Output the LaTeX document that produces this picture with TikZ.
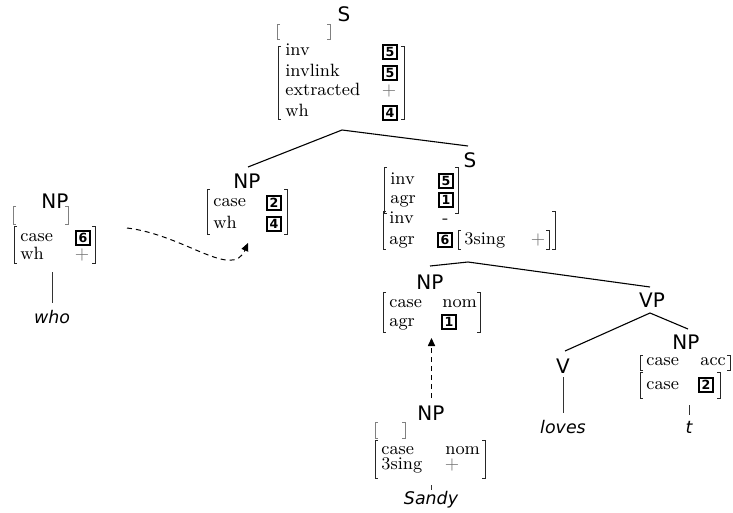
\documentclass[tikz,border=0pt]{standalone}
\usepackage{fontspec}
\setsansfont{DejaVu Sans}
\usetikzlibrary{arrows.meta}

% left x, top y, right x, bottom y of a pair of square brackets
\newcommand\avmbrk[5][]{%
  \draw[brk,#1] (#2,#3) ++(3,0) -- ++(-3,0) -- (#2,#5) -- ++(3,0);
  \draw[brk,#1] (#4,#3) ++(-3,0) -- ++(3,0) -- (#4,#5) -- ++(-3,0);
}

\tikzset{
  lab/.style={anchor=base, inner sep=0pt, font=\sffamily\fontsize{10}{12}\selectfont},
  word/.style={anchor=base, inner sep=0pt, font=\sffamily\itshape\fontsize{8.7}{10}\selectfont},
  feat/.style={anchor=base west, inner sep=0pt, font=\rmfamily\fontsize{8.9}{10}\selectfont},
  plus/.style={anchor=base, inner sep=0pt, text=black!55, font=\rmfamily\fontsize{8.9}{10}\selectfont},
  tagbox/.style={draw, line width=1pt, minimum size=7pt, inner sep=0pt,
    font=\sffamily\bfseries\fontsize{6.3}{7}\selectfont},
  brk/.style={line width=0.5pt, black!85},
  branch/.style={line width=0.55pt},
  stem/.style={line width=0.5pt, black!80},
  link/.style={line width=0.5pt, dash pattern=on 2.5pt off 2pt,
    -{Triangle[length=4pt,width=3.6pt]}}
}

\begin{document}
\begin{tikzpicture}[x=0.5pt,y=-0.5pt]
\useasboundingbox (0,0) rectangle (733,513);

% ---- root S ----
\node[lab] (sTop) at (344,22) {S};
\avmbrk[black!50]{277}{25}{330}{40}
\avmbrk{278}{47}{404}{120}
\node[feat] (sTopInv) at (285,56) {inv};
\node[feat] (sTopInvlink) at (285,77) {invlink};
\node[feat] (sTopExtr) at (285,96) {extracted};
\node[feat] (sTopWh) at (285,117) {wh};
\node[tagbox] (sTopT1) at (390,52) {5};
\node[tagbox] (sTopT2) at (390,73) {5};
\node[plus] (sTopPlus) at (389,96) {$+$};
\node[tagbox] (sTopT3) at (390,113) {4};

\coordinate (topApex) at (342,130);
\coordinate (npMidTop) at (248,167);
\coordinate (sRightTop) at (468,146);
\draw[branch] (npMidTop) -- (topApex) -- (sRightTop);

% ---- extracted NP "who" ----
\node[lab] (npWho) at (55,209) {NP};
\avmbrk[black!50]{13}{207}{68}{225}
\avmbrk{14}{227}{95}{264}
\node[feat] (npWhoCase) at (20,242) {case};
\node[feat] (npWhoWh) at (20,260) {wh};
\node[tagbox] (npWhoT) at (83,238) {6};
\node[plus] (npWhoPlus) at (82,260) {$+$};
\coordinate (whoTop) at (52.5,272);
\coordinate (whoBot) at (52.5,303);
\draw[stem] (whoTop) -- (whoBot);
\node[word] (who) at (52,323) {who};

% ---- NP under the root ----
\node[lab] (npMid) at (247,189) {NP};
\avmbrk{207}{190}{287}{235}
\node[feat] (npMidCase) at (213,207) {case};
\node[feat] (npMidWh) at (213,228) {wh};
\node[tagbox] (npMidT1) at (274,203) {2};
\node[tagbox] (npMidT2) at (274,224) {4};

\coordinate (linkStart) at (127,228);
\coordinate (linkEnd) at (248,243);
\draw[link] (linkStart) .. controls (185,235) and (232,280) .. (linkEnd);

% ---- inner S ----
\node[lab] (sRight) at (470,168) {S};
\avmbrk{384}{168}{458}{214}
\node[feat] (sRInv) at (390,185) {inv};
\node[feat] (sRAgr) at (390,204) {agr};
\node[tagbox] (sRT1) at (446,181) {5};
\node[tagbox] (sRT2) at (446,200) {1};
\avmbrk{383}{212}{555}{250}
\node[feat] (sRInv2) at (389,224) {inv};
\node[feat] (sRAgr2) at (389,244) {agr};
\node[feat] (sRMinus) at (442,224) {-};
\node[tagbox] (sRT3) at (445,240) {6};
\avmbrk{458}{231}{549}{250}
\node[feat] (sRSing) at (464,244) {3sing};
\node[plus] (sRPlus) at (538,244) {$+$};

\coordinate (sApex) at (468,262);
\coordinate (npNomTop) at (430,266);
\coordinate (vpTop) at (650,287);
\draw[branch] (npNomTop) -- (sApex) -- (vpTop);

% ---- subject NP ----
\node[lab] (npNom) at (430,289) {NP};
\avmbrk{383}{292}{480}{332}
\node[feat] (npNomCase) at (389,307) {case};
\node[feat] (npNomAgr) at (389,326) {agr};
\node[feat] (npNomVal) at (442,307) {nom};
\node[tagbox] (npNomT) at (449,322) {1};

\coordinate (sandyUp) at (431.5,398);
\coordinate (npNomBot) at (431.5,338);
\draw[link] (sandyUp) -- (npNomBot);

% ---- NP "Sandy" ----
\node[lab] (npSandy) at (431,420) {NP};
\avmbrk[black!50]{375}{422}{405}{438}
\avmbrk{375}{440}{485}{478}
\node[feat] (npSandyCase) at (381,454) {case};
\node[feat] (npSandySing) at (381,469) {3sing};
\node[feat] (npSandyNom) at (445,454) {nom};
\node[plus] (npSandyPlus) at (452,469) {$+$};
\coordinate (sandyTickTop) at (431.5,485);
\coordinate (sandyTickBot) at (431.5,490);
\draw[stem] (sandyTickTop) -- (sandyTickBot);
\node[word] (sandy) at (431,504) {Sandy};

% ---- VP ----
\node[lab] (vp) at (652,307) {VP};
\coordinate (vpApex) at (650,313);
\coordinate (vTop) at (565,351);
\coordinate (npObjTop) at (688,329);
\draw[branch] (vTop) -- (vpApex) -- (npObjTop);

\node[lab] (v) at (563,373) {V};
\coordinate (vBotA) at (563.5,377);
\coordinate (vBotB) at (563.5,413);
\draw[stem] (vBotA) -- (vBotB);
\node[word] (loves) at (563,433) {loves};

% ---- object NP (trace) ----
\node[lab] (npObj) at (686,349) {NP};
\avmbrk{640}{355}{730}{370}
\node[feat] (npObjCase) at (646,365) {case};
\node[feat] (npObjAcc) at (700,365) {acc};
\avmbrk{640}{372}{720}{398}
\node[feat] (npObjCase2) at (646,389) {case};
\node[tagbox] (npObjT) at (706,385) {2};
\coordinate (tTickTop) at (689.5,405);
\coordinate (tTickBot) at (689.5,415);
\draw[stem] (tTickTop) -- (tTickBot);
\node[word] (trace) at (689,433) {t};
\end{tikzpicture}
\end{document}
